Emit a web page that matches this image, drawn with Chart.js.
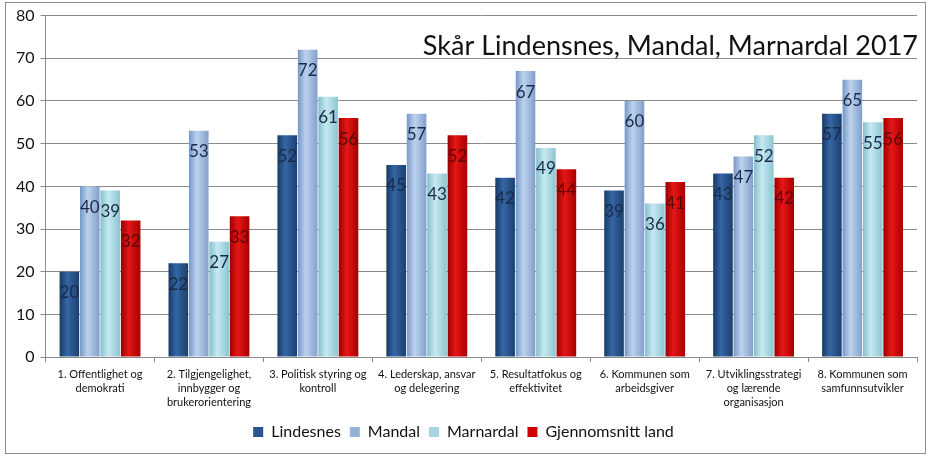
<!DOCTYPE html>
<html>
<head>
<meta charset="utf-8">
<script src="https://cdn.jsdelivr.net/npm/chart.js@4.4.1/dist/chart.umd.min.js"></script>
<style>
    html, body { margin: 0; padding: 0; background: #fff; }
    #wrap { position: relative; width: 933px; height: 459px; }
</style>
</head>
<body>
<div id="wrap"><canvas id="scoreChart"></canvas></div>
<script>
// Kategorier (x-aksen)
const categories = [
    ['1. Offentlighet og', 'demokrati'],
    ['2. Tilgjengelighet,', 'innbygger og', 'brukerorientering'],
    ['3. Politisk styring og', 'kontroll'],
    ['4. Lederskap, ansvar', 'og delegering'],
    ['5. Resultatfokus og', 'effektivitet'],
    ['6. Kommunen som', 'arbeidsgiver'],
    ['7. Utviklingsstrategi', 'og lærende', 'organisasjon'],
    ['8. Kommunen som', 'samfunnsutvikler'],
];

const seriesNames = ['Lindesnes', 'Mandal', 'Marnardal', 'Gjennomsnitt land'];
const lindesnes = [20, 22, 52, 45, 42, 39, 43, 57];
const mandal = [40, 53, 72, 57, 67, 60, 47, 65];
const marnardal = [39, 27, 61, 43, 49, 36, 52, 55];
const snittLand = [32, 33, 56, 52, 44, 41, 42, 56];

const yMin = 0;
const yMax = 80;
const yStep = 10;

const chartTitle = 'Skår Lindensnes, Mandal, Marnardal 2017';

// farger: [kant, midt, kant] for "sylinder"-effekt
const barColors = [
    { base: '#2a568f', stops: ['#173a66', '#3566a5', '#1a3f6e'], label: '#1b2a48' },
    { base: '#95b3d7', stops: ['#7598c6', '#bcd2ee', '#829fcb'], label: '#1b2a48' },
    { base: '#a5d5df', stops: ['#84bfcb', '#c6e9f0', '#8cc5d1'], label: '#1b2a48' },
    { base: '#d00000', stops: ['#9a0000', '#e51616', '#a80000'], label: '#5a0808' },
];

const datasets = [lindesnes, mandal, marnardal, snittLand].map((values, i) => ({
    label: seriesNames[i],
    data: values,
    backgroundColor: () => barColors[i].base,
    borderWidth: 0,
    barPercentage: 0.96,
    categoryPercentage: 0.75,
}));

// Gradient på hver søyle
const barGradient = {
    id: 'barGradient',
    beforeDatasetsDraw(chart) {
        const ctx = chart.ctx;
        chart.data.datasets.forEach((ds, di) => {
            const meta = chart.getDatasetMeta(di);
            const c = barColors[di];
            meta.data.forEach((bar) => {
                const left = bar.x - bar.width / 2;
                const g = ctx.createLinearGradient(left, 0, left + bar.width, 0);
                g.addColorStop(0, c.stops[0]);
                g.addColorStop(0.4, c.stops[1]);
                g.addColorStop(1, c.stops[2]);
                bar.options.backgroundColor = g;
            });
        });
    },
};

// Verdietiketter inne i søylene + tittel + ramme
const decorations = {
    id: 'decorations',
    afterDatasetsDraw(chart) {
        const ctx = chart.ctx;
        ctx.save();
        ctx.font = '17px Lato, "Open Sans", sans-serif';
        ctx.textAlign = 'center';
        ctx.textBaseline = 'middle';
        chart.data.datasets.forEach((ds, di) => {
            const meta = chart.getDatasetMeta(di);
            ctx.fillStyle = barColors[di].label;
            meta.data.forEach((bar, i) => {
                ctx.fillText(String(ds.data[i]), bar.x, bar.y + 21);
            });
        });
        ctx.restore();
    },
    afterDraw(chart) {
        const ctx = chart.ctx;
        const area = chart.chartArea;
        ctx.save();
        ctx.font = '27px Lato, "Open Sans", sans-serif';
        ctx.fillStyle = '#111';
        ctx.textAlign = 'right';
        ctx.textBaseline = 'alphabetic';
        ctx.fillText(chartTitle, area.right + 1, area.top + 39);
        ctx.strokeStyle = '#8a8a8a';
        ctx.lineWidth = 1;
        ctx.strokeRect(5.5, 2.5, 920, 451);
        ctx.restore();
    },
};

const ctx = document.getElementById('scoreChart').getContext('2d');
new Chart(ctx, {
    type: 'bar',
    data: {
        labels: categories,
        datasets: datasets,
    },
    options: {
        responsive: true,
        maintainAspectRatio: false,
        animation: false,
        layout: {
            padding: { left: 10, right: 16, top: 15, bottom: 9 },
        },
        plugins: {
            legend: {
                position: 'bottom',
                labels: {
                    color: '#111',
                    font: { size: 16, family: 'Lato, "Open Sans", sans-serif' },
                    boxWidth: 10,
                    boxHeight: 10,
                    padding: 9,
                },
            },
            tooltip: { enabled: false },
        },
        scales: {
            x: {
                grid: {
                    display: true,
                    offset: true,
                    drawOnChartArea: false,
                    color: '#8a8a8a',
                    tickLength: 5,
                },
                border: { color: '#8a8a8a' },
                ticks: {
                    color: '#111',
                    font: { size: 11, family: 'Lato, "Open Sans", sans-serif', lineHeight: 1.3 },
                    maxRotation: 0,
                    autoSkip: false,
                    padding: 5,
                },
            },
            y: {
                min: yMin,
                max: yMax,
                grid: {
                    color: '#8a8a8a',
                    tickLength: 5,
                },
                border: { color: '#8a8a8a' },
                ticks: {
                    stepSize: yStep,
                    color: '#111',
                    font: { size: 16, family: 'Lato, "Open Sans", sans-serif' },
                    padding: 6,
                },
            },
        },
    },
    plugins: [barGradient, decorations],
});
</script>
</body>
</html>
